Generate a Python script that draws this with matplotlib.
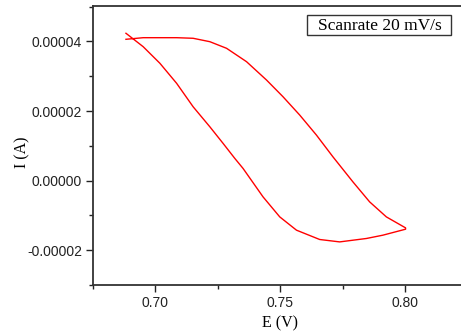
import matplotlib
matplotlib.use("Agg")
import matplotlib.pyplot as plt
from matplotlib.ticker import MultipleLocator, FormatStrFormatter
from matplotlib.patches import Rectangle

# Forward scan (upper branch) then reverse scan (lower branch): potential (V), current (A)
E_fwd = [0.6882, 0.6951, 0.7085, 0.7151, 0.7218, 0.7285, 0.7365, 0.7445, 0.7511,
         0.7578, 0.7645, 0.7711, 0.7791, 0.7858, 0.7925, 0.8002]
I_fwd = [4.063e-5, 4.109e-5, 4.109e-5, 4.092e-5, 3.994e-5, 3.804e-5, 3.419e-5, 2.892e-5,
         2.412e-5, 1.885e-5, 1.309e-5, 0.685e-5, -0.035e-5, -0.610e-5, -1.042e-5, -1.358e-5]
E_rev = [0.8002, 0.7911, 0.7845, 0.7738, 0.7658, 0.7565, 0.7498, 0.7431, 0.7351,
         0.7318, 0.7271, 0.7218, 0.7151, 0.7085, 0.7018, 0.6951, 0.6882]
I_rev = [-1.396e-5, -1.568e-5, -1.663e-5, -1.761e-5, -1.692e-5, -1.424e-5, -1.042e-5,
         -0.466e-5, 0.351e-5, 0.639e-5, 1.071e-5, 1.548e-5, 2.124e-5, 2.797e-5,
         3.373e-5, 3.850e-5, 4.236e-5]

xticks = [0.70, 0.75, 0.80]
yticks = [-0.00002, 0.0, 0.00002, 0.00004]
legend_text = "Scanrate 20 mV/s"

fig = plt.figure(figsize=(4.61, 3.36), dpi=100)
ax = fig.add_axes([93/461, 1-285/336, 1-93/461, (285-6)/336])

ax.plot(E_fwd + E_rev, I_fwd + I_rev, color="red", lw=1.0)

ax.set_xlim(0.675, 0.8224)
ax.set_ylim(-3e-5, 5.02e-5)
ax.set_xticks(xticks)
ax.set_yticks(yticks)
ax.xaxis.set_minor_locator(MultipleLocator(0.025))
ax.yaxis.set_minor_locator(MultipleLocator(1e-5))
ax.xaxis.set_major_formatter(FormatStrFormatter("%.2f"))
ax.yaxis.set_major_formatter(FormatStrFormatter("%.5f"))

ax.tick_params(which="both", direction="out", labelsize=10, width=1.0,
               colors="#222222")
ax.tick_params(which="major", length=5, pad=3)
ax.tick_params(which="minor", length=3)
for lab in ax.get_xticklabels() + ax.get_yticklabels():
    lab.set_fontfamily("Liberation Sans")
ax.spines["right"].set_visible(False)
for s in ["left", "bottom", "top"]:
    ax.spines[s].set_linewidth(1.3)
    ax.spines[s].set_color("#333333")

ax.set_xlabel("E (V)", fontfamily="Liberation Serif", fontsize=11.5)
ax.set_ylabel("I (A)", fontfamily="Liberation Serif", fontsize=11.5)
ax.xaxis.set_label_coords((280 - 93) / 368, -(323 - 285) / 279)
ax.yaxis.set_label_coords((22 - 93) / 368, (285 - 152) / 279)
ax.xaxis.label.set_va("center")
ax.yaxis.label.set_va("center")

fig.add_artist(Rectangle((307/461, 1-35/336), (451-307)/461, 20/336,
                         transform=fig.transFigure, fc="white", ec="#333333", lw=1.0))
fig.text(380/461, 1-25.5/336, legend_text, ha="center", va="center",
         fontfamily="Liberation Serif", fontsize=12.5)

fig.savefig("out.png", dpi=100)
